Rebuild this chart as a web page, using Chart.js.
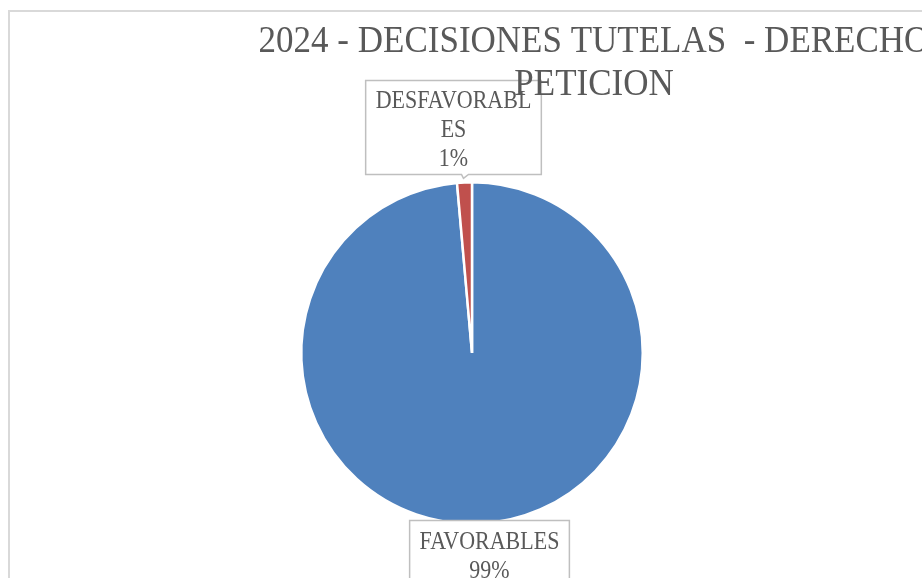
<!DOCTYPE html>
<html>
<head>
<meta charset="utf-8">
<title>2024 - Decisiones tutelas - Derecho peticion</title>
<script src="https://cdn.jsdelivr.net/npm/chart.js@4.4.1/dist/chart.umd.min.js"></script>
<style>
  body { margin: 0; background: #fff; overflow: hidden; }
  .chart-box {
    position: absolute;
    left: 8px;
    top: 10px;
    width: 1168px;
    height: 660px;
    border: 2px solid #d9d9d9;
    background: #fff;
  }
</style>
</head>
<body>

<div class="chart-box"><canvas id="myChart"></canvas></div>

<script>
// DATA

var categories = ['FAVORABLES', 'DESFAVORABLES'];
var values = [98.6, 1.4];
var sliceColors = ['#4F81BD', '#C0504D'];
var titleLines = ['2024 - DECISIONES TUTELAS  - DERECHO', 'PETICION'];


// HELPERS

var TEXT_COLOR = '#595959';
var FONT = '"Liberation Serif", "Times New Roman", serif';

// draws text a bit taller than wide, like the Cambria of the original
function stretchedText(ctx, text, x, y, scaleY) {
  ctx.save();
  ctx.translate(x, y);
  ctx.scale(1, scaleY);
  ctx.fillText(text, 0, 0);
  ctx.restore();
}

// Excel breaks long words letter by letter when the label box is too narrow
function wrapWord(ctx, word, maxWidth) {
  var lines = [];
  var line = '';
  for (var i = 0; i < word.length; i++) {
    var test = line + word[i];
    if (line && ctx.measureText(test).width > maxWidth) {
      lines.push(line);
      line = word[i];
    } else {
      line = test;
    }
  }
  lines.push(line);
  return lines;
}


// PLUGINS

var dataLabels = {
  id: 'dataLabels',
  afterDraw: function(chart) {
    var ctx = chart.ctx;
    var meta = chart.getDatasetMeta(0);
    var data = chart.data.datasets[0].data;
    var total = data.reduce(function(a, b) { return a + b; }, 0);

    ctx.save();
    ctx.font = '22px ' + FONT;

    meta.data.forEach(function(arc, i) {
      var p = arc.getProps(['x', 'y', 'startAngle', 'endAngle', 'outerRadius'], true);
      var mid = (p.startAngle + p.endAngle) / 2;
      var ax = p.x + Math.cos(mid) * p.outerRadius;
      var ay = p.y + Math.sin(mid) * p.outerRadius;

      var lines = wrapWord(ctx, chart.data.labels[i], 160);
      lines.push(Math.round(data[i] / total * 100) + '%');

      var textW = Math.max.apply(null, lines.map(function(l) { return ctx.measureText(l).width; }));
      var w = textW + 20;
      var h = lines.length * 29 + 7;
      var up = ay < p.y;
      var cx = ax + (up ? -11 : 10);
      var left = cx - w / 2;
      var top = up ? ay - 8 - h : ay - 3;
      var bottom = top + h;

      // box with the little callout tail
      ctx.beginPath();
      ctx.moveTo(left, top);
      ctx.lineTo(left + w, top);
      ctx.lineTo(left + w, bottom);
      if (up) {
        ctx.lineTo(ax + 4, bottom);
        ctx.lineTo(ax - 1, ay - 4);
        ctx.lineTo(ax - 3, bottom);
      }
      ctx.lineTo(left, bottom);
      ctx.closePath();
      ctx.fillStyle = '#fff';
      ctx.fill();
      ctx.lineWidth = 1.5;
      ctx.strokeStyle = '#bfbfbf';
      ctx.stroke();

      ctx.fillStyle = TEXT_COLOR;
      ctx.textAlign = 'center';
      ctx.textBaseline = 'alphabetic';
      lines.forEach(function(line, j) {
        stretchedText(ctx, line, cx, top + 28 + j * 29, 1.15);
      });
    });

    ctx.restore();
  }
};

var chartTitle = {
  id: 'chartTitle',
  afterDraw: function(chart) {
    var ctx = chart.ctx;
    ctx.save();
    ctx.font = '35px ' + FONT;
    ctx.fillStyle = TEXT_COLOR;
    ctx.textAlign = 'center';
    ctx.textBaseline = 'alphabetic';
    titleLines.forEach(function(line, i) {
      stretchedText(ctx, line, chart.width / 2, 40 + i * 43, 1.08);
    });
    ctx.restore();
  }
};


// CHART

var ctx = document.getElementById('myChart').getContext('2d');

var chart = new Chart(ctx, {
  type: 'pie',
  data: {
    labels: categories,
    datasets: [{
      data: values,
      backgroundColor: sliceColors,
      borderColor: '#fff',
      borderWidth: 2.5
    }]
  },
  options: {
    responsive: true,
    maintainAspectRatio: false,
    animation: false,
    layout: {
      padding: { left: 290, top: 169, right: 534, bottom: 147 }
    },
    plugins: {
      legend: { display: false },
      tooltip: { enabled: false },
      title: { display: false }
    }
  },
  plugins: [dataLabels, chartTitle]
});
</script>
</body>
</html>
